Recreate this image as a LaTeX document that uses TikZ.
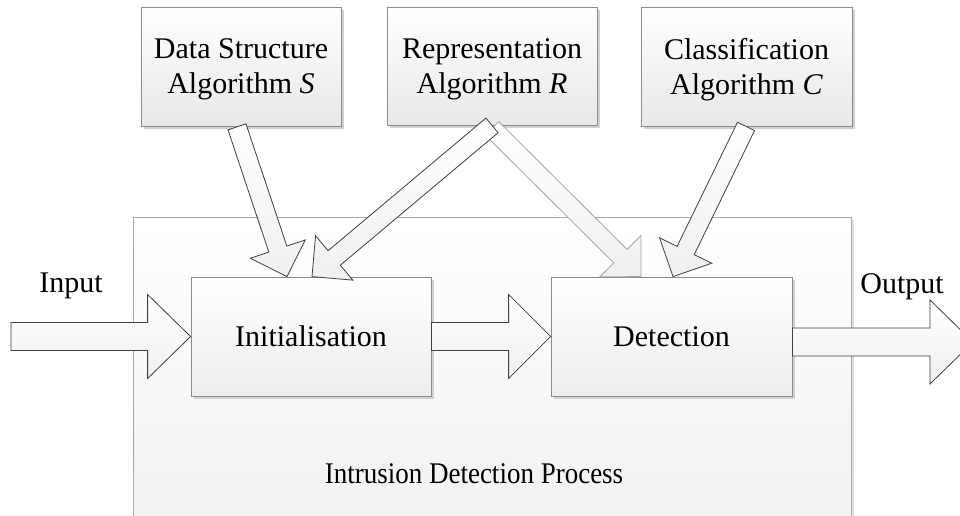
\documentclass[tikz,border=0pt]{standalone}
\usepackage{fontspec}
\setmainfont{Liberation Serif}
\usetikzlibrary{calc,shadows}
\definecolor{boxline}{HTML}{8C8C8C}
\definecolor{outerline}{HTML}{A8A8A8}
\definecolor{arrline}{HTML}{404040}
\tikzset{
  basebox/.style={draw=boxline, line width=0.8pt, rectangle, inner sep=0pt,
    drop shadow={shadow xshift=3pt, shadow yshift=-3pt, fill=black!18, opacity=1}},
  topbox/.style={basebox, top color=white, bottom color=black!9},
  procbox/.style={basebox, top color=white, bottom color=black!7},
  outerbox/.style={draw=outerline, line width=0.8pt, top color=white, bottom color=black!6,
    drop shadow={shadow xshift=3pt, shadow yshift=-3pt, fill=black!12, opacity=1}},
  lbl/.style={font=\fontsize{30}{35}\selectfont, inner sep=0pt, align=center},
  blockarr/.style={draw=arrline, line width=0.8pt, line join=miter, top color=white, bottom color=black!6},
  lightarr/.style={draw=black!35, line width=0.8pt, line join=miter, top color=white, bottom color=black!6},
}
% #1 style, #2 tail, #3 tip, #4 shaft half width, #5 head half width, #6 head length
\newcommand\blockarrow[6]{%
  \coordinate (ba-h) at ($(#3)!#6!(#2)$);
  \path[#1] ($(#2)!#4!90:(#3)$) -- ($(ba-h)!#4!90:(#3)$) -- ($(ba-h)!#5!90:(#3)$)
    -- (#3) -- ($(ba-h)!#5!-90:(#3)$) -- ($(ba-h)!#4!-90:(#3)$) -- ($(#2)!#4!-90:(#3)$) -- cycle;
}
\begin{document}
\begin{tikzpicture}[x=1pt, y=-1pt]
\useasboundingbox (0,0) rectangle (960,515);
\clip (0,0) rectangle (960,515);
\fill[white] (0,0) rectangle (960,515);

% outer process box
\path[outerbox] (133,217) rectangle (851,560);
\node[lbl] (idp) at (474,474) {\scalebox{0.9}[1]{Intrusion Detection Process}};

% top boxes
\node[topbox, minimum width=200pt, minimum height=119pt] (ds) at (241,66.5) {};
\node[topbox, minimum width=210pt, minimum height=118pt] (rep) at (492,66) {};
\node[topbox, minimum width=211pt, minimum height=119pt] (cls) at (746.5,66.5) {};
\node[lbl] (ds-t) at ($(ds.center)+(0,3)$) {Data Structure\\Algorithm \textit{S}};
\node[lbl] (rep-t) at ($(rep.center)+(0,3.5)$) {Representation\\Algorithm \textit{R}};
\node[lbl] (cls-t) at ($(cls.center)+(0,3)$) {Classification\\Algorithm \textit{C}};

% process boxes
\node[procbox, minimum width=240pt, minimum height=119pt] (init) at (311,336.5) {};
\node[procbox, minimum width=241pt, minimum height=119pt] (det) at (671.5,336.5) {};
\node[lbl, anchor=base] (init-t) at ($(init.center)+(0,10)$) {Initialisation};
\node[lbl, anchor=base] (det-t) at ($(det.center)+(0,10)$) {Detection};

% labels
\node[lbl, anchor=base] (inlbl) at (71,292) {Input};
\node[lbl, anchor=base] (outlbl) at (902,293) {Output};

% arrow end points
\coordinate (in-start) at (11,336.5);
\coordinate (out-start) at ($(det.east)+(0,5.5)$);
\coordinate (out-end) at (973,342);
\coordinate (ds-tail) at ($(ds.south)+(-4,0.5)$);
\coordinate (ds-tip) at ($(init.north)+(-24,0)$);
\coordinate (repl-tail) at ($(rep.south)+(0,0)$);
\coordinate (repl-tip) at ($(init.north)+(1,0)$);
\coordinate (repr-tail) at ($(rep.south)+(0,3)$);
\coordinate (repr-tip) at ($(det.north)+(-30.5,0)$);
\coordinate (cls-tail) at ($(cls.south)+(-0.5,0)$);
\coordinate (cls-tip) at ($(det.north)+(1.5,0)$);

% horizontal block arrows
\blockarrow{blockarr}{in-start}{init.west}{14pt}{42pt}{43pt}
\blockarrow{blockarr}{init.east}{det.west}{14pt}{42pt}{42pt}
\blockarrow{blockarr}{out-start}{out-end}{14pt}{42pt}{43pt}

% slanted block arrows
\blockarrow{blockarr}{ds-tail}{ds-tip}{9.5pt}{29pt}{29pt}
\blockarrow{lightarr}{repr-tail}{repr-tip}{9.5pt}{29pt}{29pt}
\blockarrow{blockarr}{repl-tail}{repl-tip}{9.5pt}{29pt}{29pt}
\blockarrow{blockarr}{cls-tail}{cls-tip}{9.5pt}{29pt}{29pt}
\end{tikzpicture}
\end{document}
